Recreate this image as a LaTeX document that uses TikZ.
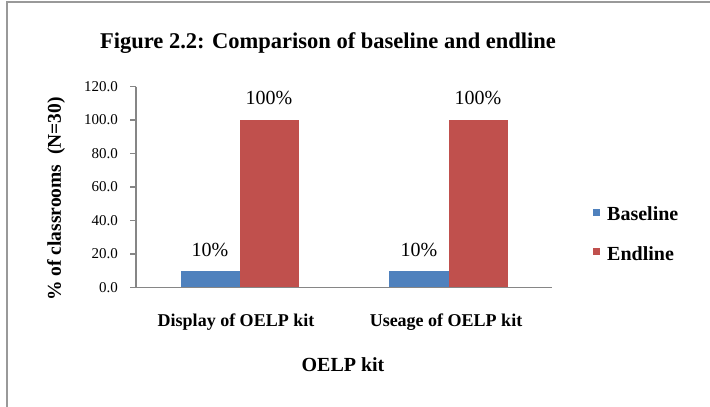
\documentclass[tikz,border=0pt]{standalone}
\usepackage{fontspec}
\setmainfont{Liberation Serif}
\definecolor{bblue}{HTML}{4F81BD}
\definecolor{ered}{HTML}{C0504D}
\definecolor{axisgray}{HTML}{868686}
\begin{document}
\begin{tikzpicture}[x=1pt,y=-1pt,
  ticklab/.style={anchor=east,inner sep=0pt,font=\fontsize{15}{17}\selectfont},
  datalab/.style={inner sep=0pt,font=\fontsize{20}{24}\selectfont},
  catlab/.style={inner sep=0pt,font=\fontsize{18}{22}\selectfont\bfseries},
  leglab/.style={anchor=west,inner sep=0pt,font=\fontsize{20}{24}\selectfont\bfseries},
  axisline/.style={draw=axisgray,line width=1.3pt}]
\useasboundingbox (0,0) rectangle (710,407);
\fill[white] (0,0) rectangle (710,407);
% outer frame
\draw[gray!80,line width=2pt] (7,407) -- (7,2) -- (710,2);
% title
\node[inner sep=0pt,font=\fontsize{22.5}{26}\selectfont\bfseries] (title) at (328,43) {Figure 2.2: Comparison of baseline and endline};
% axes
\coordinate (o) at (136,287.5);
\coordinate (ytop) at (136,86.5);
\coordinate (xend) at (552,287.5);
% bars
\fill[bblue] (181,287.5) rectangle (240,270.75);
\fill[ered] (240,287.5) rectangle (299,120);
\fill[bblue] (389,287.5) rectangle (449,270.75);
\fill[ered] (449,287.5) rectangle (508,120);
\draw[axisline] (ytop) -- (o) -- (xend);
\foreach \v [count=\i] in {0.0,20.0,40.0,60.0,80.0,100.0,120.0}{
  \draw[axisline] (130,{287.5-(\i-1)*33.5}) -- (136,{287.5-(\i-1)*33.5});
  \node[ticklab] (t\i) at (118,{287.5-(\i-1)*33.5}) {\v};
}
% data labels
\node[datalab] (d1) at (210,250) {10\%};
\node[datalab] (d2) at (269,98) {100\%};
\node[datalab] (d3) at (419,250) {10\%};
\node[datalab] (d4) at (478,98) {100\%};
% category labels
\node[catlab] (c1) at (236,322) {Display of OELP kit};
\node[catlab] (c2) at (446,322) {Useage of OELP kit};
% axis titles
\node[inner sep=0pt,font=\fontsize{20}{24}\selectfont\bfseries] (xt) at (343,365) {OELP kit};
\node[inner sep=0pt,rotate=90,font=\fontsize{19.5}{24}\selectfont\bfseries] (yt) at (56,199) {\%\ of classrooms\ \ (N=30)};
% legend
\fill[bblue] (593,209) rectangle (600,216);
\node[leglab] (l1) at (607,214) {Baseline};
\fill[ered] (593,248) rectangle (600,255);
\node[leglab] (l2) at (607,254) {Endline};
\end{tikzpicture}
\end{document}
